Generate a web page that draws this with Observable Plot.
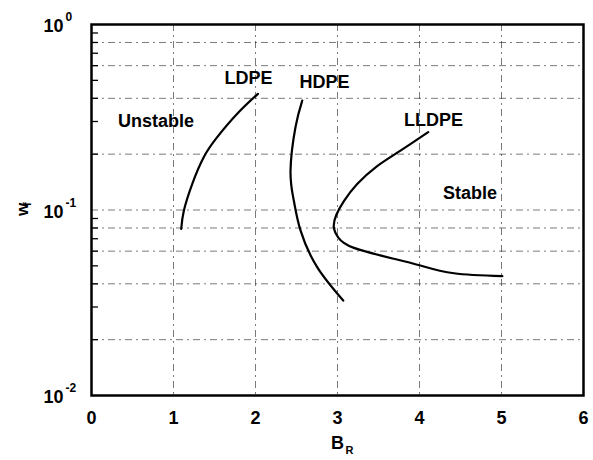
<!DOCTYPE html>
<html>
<head>
<meta charset="utf-8">
<script src="https://cdn.jsdelivr.net/npm/d3@7"></script>
<script src="https://cdn.jsdelivr.net/npm/@observablehq/plot@0.6"></script>
<style>
  html, body { margin: 0; padding: 0; background: #fff; }
  svg { font-family: "Liberation Sans", Arial, sans-serif; }
</style>
</head>
<body>
<div id="chart"></div>
<script>
// Curves (B_R, w_f)
const ldpeB = [1.094, 1.126, 1.228, 1.37, 1.533, 1.777, 2.03];
const ldpeW = [0.079, 0.099, 0.138, 0.193, 0.247, 0.330, 0.423];
const hdpeB = [2.57, 2.488, 2.427, 2.467, 2.549, 2.752, 3.07];
const hdpeW = [0.389, 0.28, 0.163, 0.1125, 0.0776, 0.0492, 0.0325];
const lldpeB = [4.106, 3.768, 3.48, 3.24, 3.08, 2.985, 2.955, 3.01, 3.2, 3.687, 4.01, 4.42, 5.01];
const lldpeW = [0.263, 0.209, 0.172, 0.138, 0.112, 0.094, 0.0808, 0.071, 0.0625, 0.0546, 0.0502, 0.0456, 0.044];

// Annotations
const labelText = ["Unstable", "LDPE", "HDPE", "LLDPE", "Stable"];
const labelB = [0.787, 1.915, 2.84, 4.17, 4.616];
const labelW = [0.301, 0.511, 0.487, 0.304, 0.1227];

// Axes
const xTicks = [0, 1, 2, 3, 4, 5, 6];
const yTicks = [1, 0.1, 0.01];
const yTickExp = ["0", "-1", "-2"];
const yMinor = [0.02, 0.03, 0.04, 0.05, 0.06, 0.07, 0.08, 0.09, 0.2, 0.3, 0.4, 0.5, 0.6, 0.7, 0.8, 0.9];
const gridY = [0.02, 0.04, 0.06, 0.08, 0.1, 0.2, 0.4, 0.6, 0.8];
const gridX = [1, 2, 3, 4, 5];

const mk = (B, W) => B.map((b, i) => ({b, w: W[i]}));
const labels = labelText.map((t, i) => ({t, b: labelB[i], w: labelW[i]}));
const yt = yTicks.map((v, i) => ({v, e: yTickExp[i]}));

const grid = {stroke: "#222", strokeWidth: 1, strokeOpacity: 0.6, strokeDasharray: "7,4,2,4"};
const txt = {fill: "#000", fontWeight: "bold"};

const chart = Plot.plot({
  width: 593,
  height: 460,
  marginLeft: 91,
  marginRight: 10,
  marginTop: 24,
  marginBottom: 65,
  style: {fontFamily: "'Liberation Sans', Arial, sans-serif", background: "#fff", color: "#000"},
  x: {domain: [0, 6]},
  y: {type: "log", domain: [0.01, 1]},
  marks: [
    Plot.ruleY(gridY, grid),
    Plot.ruleX(gridX, grid),
    Plot.axisY({ticks: yMinor, tickSize: -7, anchor: "left", tickFormat: () => "", label: null, stroke: "#000", strokeWidth: 1.3}),
    Plot.axisX({ticks: xTicks, tickSize: 0, tickPadding: 16, fontSize: 18, fontWeight: "bold", tickFormat: d => String(d), label: null}),
    Plot.text(yt, {x: () => 0, y: "v", text: () => "10", textAnchor: "end", dx: -28, dy: 2, fontSize: 18, ...txt}),
    Plot.text(yt, {x: () => 0, y: "v", text: "e", textAnchor: "start", dx: -26, dy: -7, fontSize: 12, ...txt}),
    Plot.line(mk(ldpeB, ldpeW), {x: "b", y: "w", stroke: "#000", strokeWidth: 2.2, curve: "natural"}),
    Plot.line(mk(hdpeB, hdpeW), {x: "b", y: "w", stroke: "#000", strokeWidth: 2.2, curve: "natural"}),
    Plot.line(mk(lldpeB, lldpeW), {x: "b", y: "w", stroke: "#000", strokeWidth: 2.2, curve: "natural"}),
    Plot.text(labels, {x: "b", y: "w", text: "t", fontSize: 18, ...txt}),
    Plot.text(["B"], {frameAnchor: "bottom", text: d => d, dy: 53, fontSize: 18, ...txt}),
    Plot.text(["R"], {frameAnchor: "bottom", text: d => d, dx: 12, dy: 58, fontSize: 11, ...txt}),
    Plot.text(["w"], {frameAnchor: "left", text: d => d, dx: -69, dy: 6, rotate: -90, fontSize: 17, ...txt}),
    Plot.text(["f"], {frameAnchor: "left", text: d => d, dx: -64, dy: -4, rotate: -90, fontSize: 11, ...txt}),
    Plot.frame({stroke: "#000", strokeWidth: 2.5})
  ]
});
document.getElementById("chart").appendChild(chart);
</script>
</body>
</html>
